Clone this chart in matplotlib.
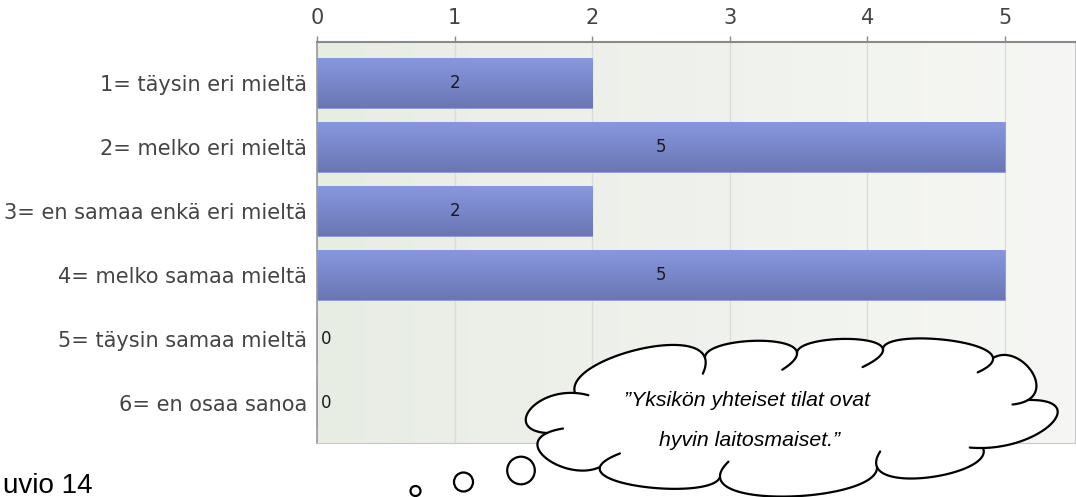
import numpy as np
import matplotlib
matplotlib.use("Agg")
import matplotlib.pyplot as plt
from matplotlib.path import Path
from matplotlib.patches import PathPatch, Circle
from matplotlib.colors import LinearSegmentedColormap

# ---------------- data ----------------
categories = ["1= täysin eri mieltä", "2= melko eri mieltä",
              "3= en samaa enkä eri mieltä", "4= melko samaa mieltä",
              "5= täysin samaa mieltä", "6= en osaa sanoa"]
values = [2, 5, 2, 5, 0, 0]
xticks = [0, 1, 2, 3, 4, 5]
quote_lines = ["”Yksikön yhteiset tilat ovat", "hyvin laitosmaiset.”"]
caption = "uvio 14"

# ---------------- figure ----------------
W, H = 1076, 497
fig = plt.figure(figsize=(W / 100, H / 100), dpi=100)
fig.patch.set_facecolor("white")

ax = fig.add_axes([317 / W, 1 - 443 / H, (1075 - 317) / W, (443 - 42) / H])
xmax = 5.51
ymin, ymax = -0.64, 5.625

# background gradient
bg = LinearSegmentedColormap.from_list("bg", ["#e8ede4", "#f6f7f4"])
ax.imshow(np.linspace(0, 1, 256)[None, :], cmap=bg,
          extent=(0, xmax, ymax, ymin), aspect="auto", zorder=0)

# bars
h = 0.79
y = np.arange(len(categories))
bars = ax.barh(y, values, height=h, color="#7887cc", edgecolor="#8e9be0",
               linewidth=0.6, zorder=2)
barcmap = LinearSegmentedColormap.from_list("bar", ["#8898df", "#6a77b4"])
for b, v in zip(bars, values):
    if v <= 0:
        continue
    x0, y0, w, hh = b.get_x(), b.get_y(), b.get_width(), b.get_height()
    im = ax.imshow(np.linspace(0, 1, 64)[:, None], cmap=barcmap,
                   extent=(x0, x0 + w, y0 + hh, y0), aspect="auto",
                   zorder=2.5, origin="upper")
    im.set_clip_path(b)

# value labels
for yi, v in zip(y, values):
    if v > 0:
        ax.text(v / 2, yi, str(v), ha="center", va="center", fontsize=12,
                color="#1a1a1a", zorder=4)
    else:
        ax.text(0.025, yi, str(v), ha="left", va="center", fontsize=12,
                color="#1a1a1a", zorder=4)

ax.set_xlim(0, xmax)
ax.set_ylim(ymax, ymin)

# axes styling
ax.xaxis.tick_top()
ax.set_xticks(xticks)
ax.set_xticklabels([str(t) for t in xticks])
ax.tick_params(axis="x", which="both", length=4, width=1, color="#888888",
               labelsize=15, labelcolor="#444444", pad=6, top=True,
               bottom=False)
ax.set_yticks(y)
ax.set_yticklabels(categories)
ax.tick_params(axis="y", length=0, labelsize=15, labelcolor="#444444",
               pad=7)
ax.grid(axis="x", color="#d9ddd9", linewidth=1)
ax.set_axisbelow(True)
ax.spines["top"].set_color("#8a8a8a")
ax.spines["top"].set_linewidth(1.5)
ax.spines["left"].set_color("#9a9a9a")
ax.spines["left"].set_linewidth(1.2)
ax.spines["bottom"].set_color("#c8c8c8")
ax.spines["right"].set_color("#c8c8c8")

# ---------------- overlay: cloud callout ----------------
ov = fig.add_axes([0, 0, 1, 1], zorder=5)
ov.set_xlim(0, W)
ov.set_ylim(H, 0)
ov.axis("off")
ov.patch.set_alpha(0)

# bumps: (start, end, peak) in pixel coordinates
bumps = [
    ((547, 433), (575, 393), (529, 411)),
    ((575, 393), (705, 358), (632, 351)),
    ((705, 358), (797, 353), (750, 341)),
    ((797, 353), (883, 350), (840, 339)),
    ((883, 350), (993, 358), (936, 339)),
    ((993, 358), (1028, 400), (1029, 368)),
    ((1028, 400), (983, 448), (1052, 423)),
    ((983, 448), (877, 467), (938, 476)),
    ((877, 467), (720, 477), (800, 496)),
    ((720, 477), (600, 467), (655, 488)),
    ((600, 467), (547, 433), (550, 461)),
]


def ctrl(p0, p1, pk):
    p0, p1, pk = map(np.asarray, (p0, p1, pk))
    mid = (p0 + p1) / 2
    d = (pk - mid) * 4 / 3
    return p0, p0 + d, p1 + d, p1


verts = []
codes = []
for i, (p0, p1, pk) in enumerate(bumps):
    a, c0, c1, b = ctrl(p0, p1, pk)
    if i == 0:
        verts.append(a)
        codes.append(Path.MOVETO)
    verts += [c0, c1, b]
    codes += [Path.CURVE4] * 3
verts.append(verts[0])
codes.append(Path.CLOSEPOLY)
cloud = PathPatch(Path(verts, codes), facecolor="white", edgecolor="none",
                  zorder=1)
ov.add_patch(cloud)


def bez(a, c0, c1, b, t):
    t = np.asarray(t)[:, None]
    return ((1 - t) ** 3 * a + 3 * (1 - t) ** 2 * t * c0 +
            3 * (1 - t) * t ** 2 * c1 + t ** 3 * b)


for p0, p1, pk in bumps:
    a, c0, c1, b = ctrl(p0, p1, pk)
    bulge = np.linalg.norm(np.asarray(pk) - (np.asarray(p0) + np.asarray(p1)) / 2)
    ext = min(0.35, 13.0 / (4 * max(bulge, 1)))
    ts = np.linspace(0, 1 + ext, 120)
    pts = bez(a, c0, c1, b, ts)
    ov.plot(pts[:, 0], pts[:, 1], color="black", lw=1.6, zorder=2,
            solid_capstyle="round")

# thought bubbles
for (cx, cy, r) in [(415.5, 491, 5), (463.5, 482, 9.5), (521, 470.5, 13.8)]:
    ov.add_patch(Circle((cx, cy), r, facecolor="white", edgecolor="black",
                        lw=1.6, zorder=3))

ov.text(747, 401, quote_lines[0], ha="center", va="center", fontsize=15.3,
        style="italic", family="Liberation Sans", color="black", zorder=4)
ov.text(750, 440, quote_lines[1], ha="center", va="center", fontsize=15.3,
        style="italic", family="Liberation Sans", color="black", zorder=4)

# caption at the lower-left corner
ov.text(3, 493, caption, ha="left", va="baseline", fontsize=20,
        family="Liberation Sans", color="black", zorder=4)

fig.savefig("out.png", dpi=100)
